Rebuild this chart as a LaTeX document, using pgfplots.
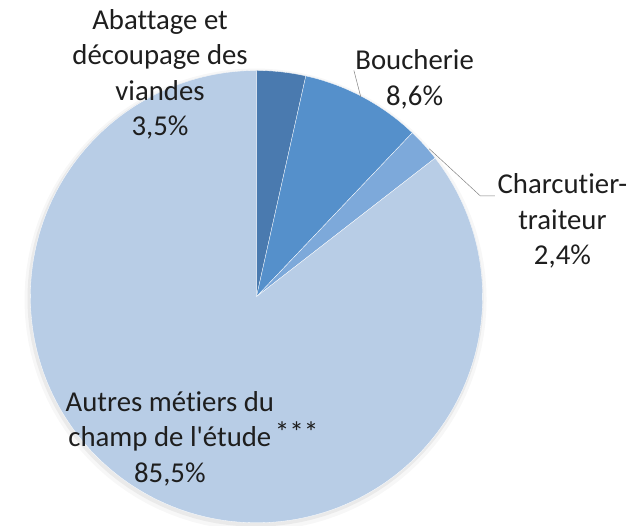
\documentclass[border=0pt]{standalone}
\usepackage{pgfplots}
\usepackage{pgfplotstable}
\pgfplotsset{compat=1.18}
\usepackage{fontspec}
\setmainfont{Carlito}[Ligatures={NoCommon}]
\definecolor{cA}{HTML}{4A7AAF}
\definecolor{cB}{HTML}{5590CB}
\definecolor{cC}{HTML}{7DA9DA}
\definecolor{cD}{HTML}{B8CDE6}
\definecolor{txt}{HTML}{1E1E1E}
\pgfplotstableread{
name pct
Abattage 3.5
Boucherie 8.6
Charcutier 2.4
Autres 85.5
}\pietable
\begin{document}
\pgfplotstablegetelem{0}{pct}\of\pietable\let\pA\pgfplotsretval
\pgfplotstablegetelem{1}{pct}\of\pietable\let\pB\pgfplotsretval
\pgfplotstablegetelem{2}{pct}\of\pietable\let\pC\pgfplotsretval
\pgfplotstablegetelem{3}{pct}\of\pietable\let\pD\pgfplotsretval
\pgfmathsetmacro\aA{90}
\pgfmathsetmacro\aB{90-3.6*\pA}
\pgfmathsetmacro\aC{\aB-3.6*\pB}
\pgfmathsetmacro\aD{\aC-3.6*\pC}
\pgfmathsetmacro\aE{\aD-3.6*\pD}
\def\cx{248.5}\def\cy{303}\def\rr{231}
\begin{tikzpicture}
\begin{axis}[name=ax,
  width=629bp, height=537bp, scale only axis,
  xmin=0, xmax=629, ymin=0, ymax=537, y dir=reverse,
  hide axis, clip=false,
]
% soft shadow
\addplot[fill=black, fill opacity=0.03, draw=none, domain=0:360, samples=120, variable=\t]
  ({\cx-1+(\rr+5)*cos(\t)},{\cy+3-(\rr+5)*sin(\t)}) -- cycle;
\addplot[fill=black, fill opacity=0.05, draw=none, domain=0:360, samples=120, variable=\t]
  ({\cx-1+(\rr+2)*cos(\t)},{\cy+2-(\rr+2)*sin(\t)}) -- cycle;
% wedges
\addplot[fill=cA, draw=white, line width=0.3pt, domain=\aB:\aA, samples=20, variable=\t]
  ({\cx+\rr*cos(\t)},{\cy-\rr*sin(\t)}) -- (axis cs:\cx,\cy) -- cycle;
\addplot[fill=cB, draw=white, line width=0.3pt, domain=\aC:\aB, samples=30, variable=\t]
  ({\cx+\rr*cos(\t)},{\cy-\rr*sin(\t)}) -- (axis cs:\cx,\cy) -- cycle;
\addplot[fill=cC, draw=white, line width=0.3pt, domain=\aD:\aC, samples=15, variable=\t]
  ({\cx+\rr*cos(\t)},{\cy-\rr*sin(\t)}) -- (axis cs:\cx,\cy) -- cycle;
\addplot[fill=cD, draw=white, line width=0.3pt, domain=\aE:\aD, samples=200, variable=\t]
  ({\cx+\rr*cos(\t)},{\cy-\rr*sin(\t)}) -- (axis cs:\cx,\cy) -- cycle;
% leader lines
\draw[gray, line width=0.5pt] (axis cs:348,72) -- (axis cs:355,99);
\draw[gray, line width=0.5pt] (axis cs:425,152) -- (axis cs:477,200) -- (axis cs:492,200);
% labels
\begin{scope}[every node/.style={font=\fontsize{29.5}{36.5}\selectfont, text=txt, align=center, inner sep=0pt}]
\node at (axis cs:150,76) {Abattage et\\découpage des\\viandes\\3,5\%};
\node at (axis cs:410,81) {Boucherie\\8,6\%};
\node at (axis cs:561,226) {Charcutier-\\traiteur\\2,4\%};
\node at (axis cs:160,448) {Autres métiers du\\champ de l\textquotesingle étude\\85,5\%};
\node[anchor=west, font=\fontsize{30}{30}\selectfont] at (axis cs:267,441) {***};
\end{scope}
\end{axis}
\pgfresetboundingbox
\path (ax.south west) rectangle (ax.north east);
\end{tikzpicture}
\end{document}
